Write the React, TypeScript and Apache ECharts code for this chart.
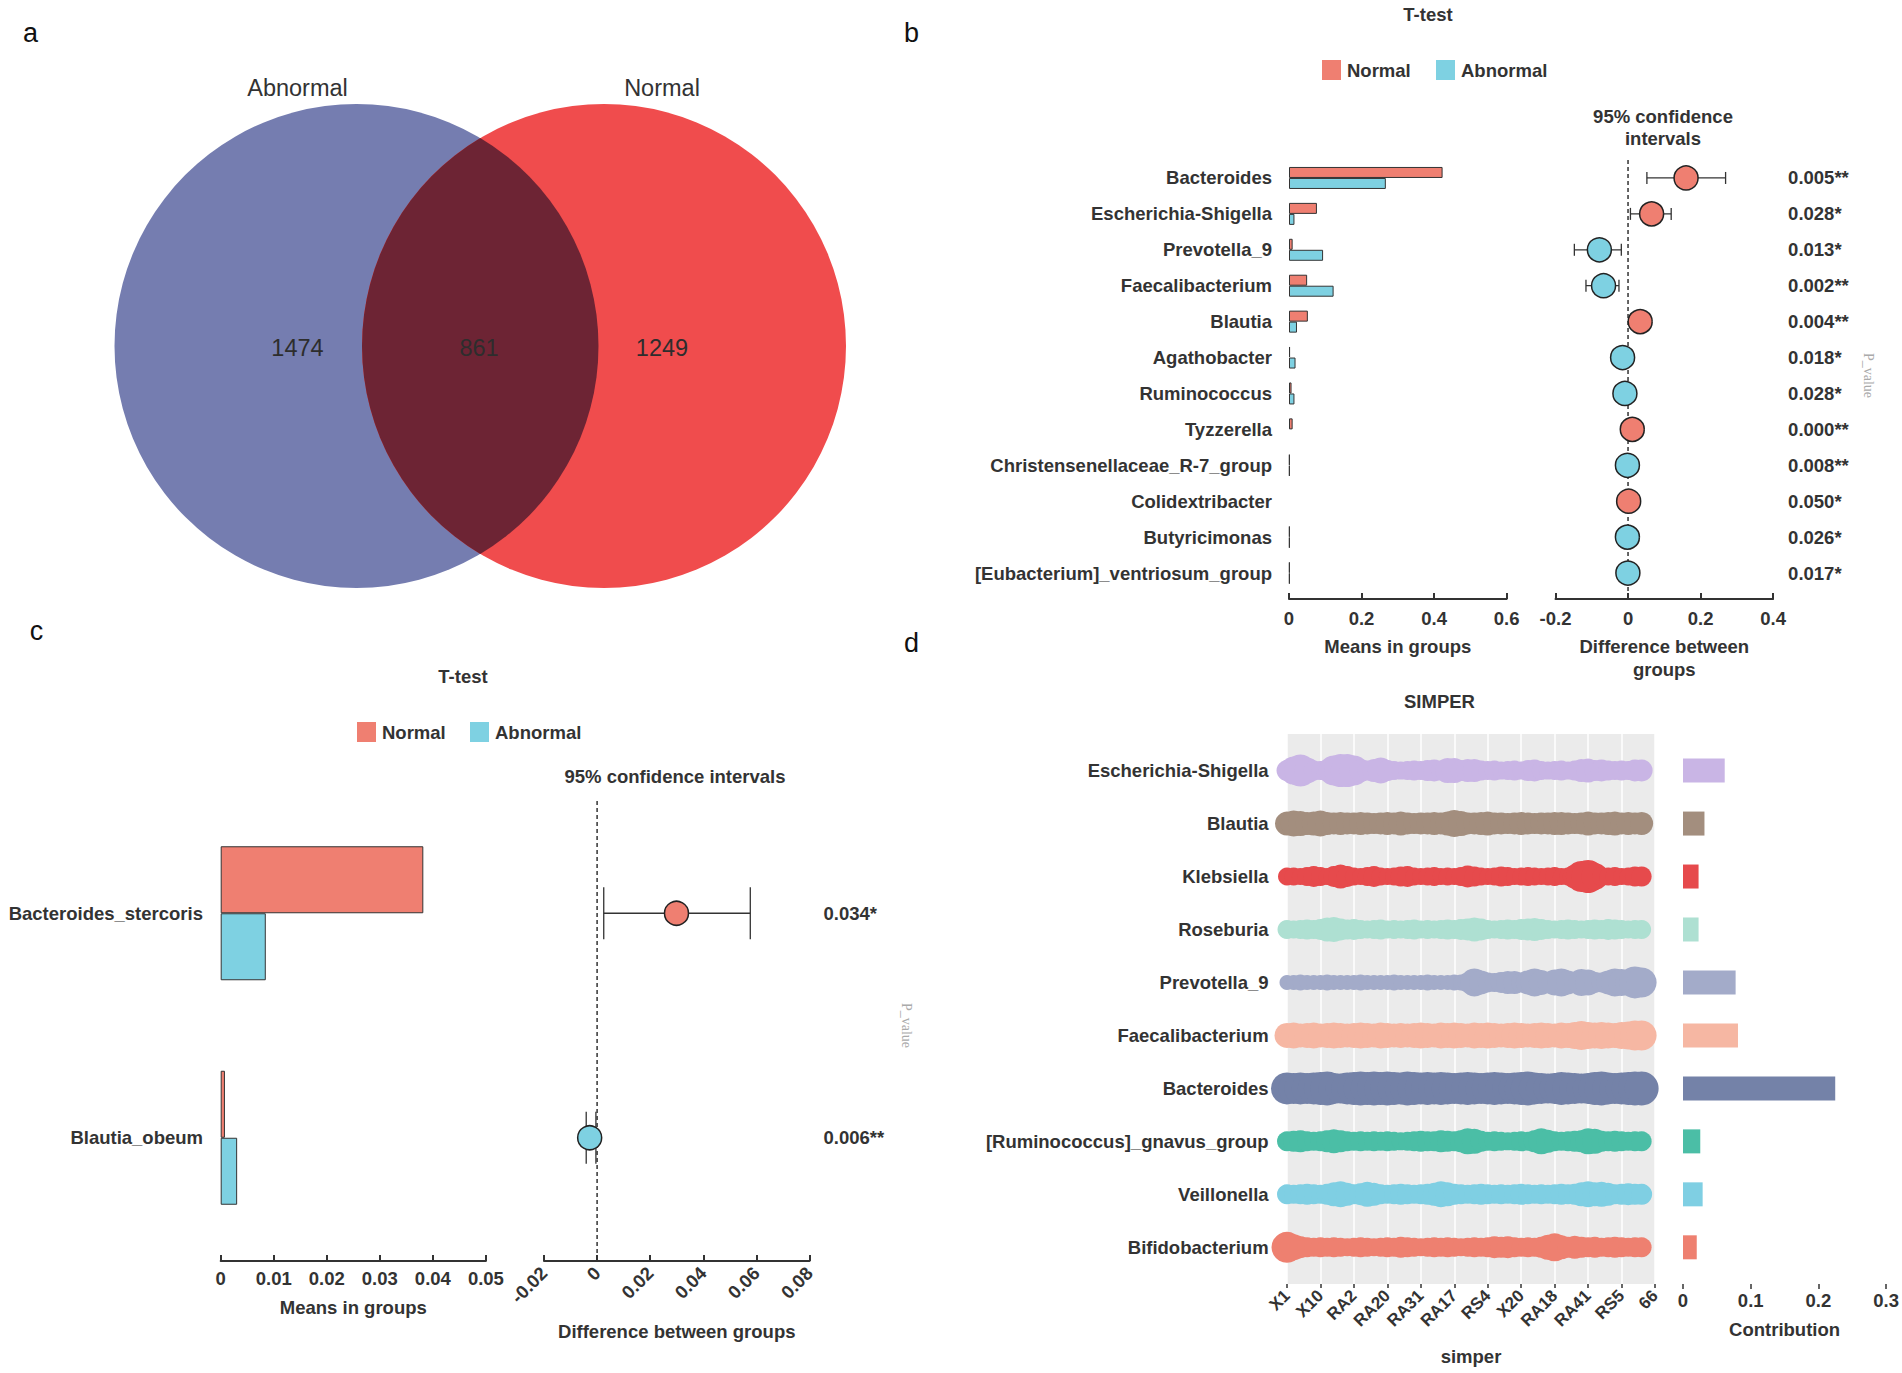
import React, { useEffect, useRef } from 'react';
import * as echarts from 'echarts';

// ---------------- DATA ----------------
const vennSets = ['Abnormal', 'Normal'];
const vennCounts = [1474, 861, 1249]; // Abnormal only, shared, Normal only

const groupNames = ['Normal', 'Abnormal'];

const bGenera = [
  'Bacteroides', 'Escherichia-Shigella', 'Prevotella_9', 'Faecalibacterium', 'Blautia',
  'Agathobacter', 'Ruminococcus', 'Tyzzerella', 'Christensenellaceae_R-7_group',
  'Colidextribacter', 'Butyricimonas', '[Eubacterium]_ventriosum_group',
];
const bNormalMean = [0.4235, 0.077, 0.010, 0.050, 0.052, 0.003, 0.007, 0.010, 0.002, 0, 0.002, 0.002];
const bAbnormalMean = [0.267, 0.015, 0.094, 0.123, 0.022, 0.018, 0.015, 0, 0.002, 0, 0.002, 0.002];
const bDiff = [0.160, 0.065, -0.079, -0.0675, 0.0335, -0.015, -0.0086, 0.0117, -0.0017, 0.0017, -0.0017, -0.0004];
const bDiffLow = [0.052, 0.0066, -0.148, -0.116, 0.016, -0.027, -0.019, 0.004, -0.004, 0.0005, -0.004, -0.002];
const bDiffHigh = [0.269, 0.119, -0.0185, -0.025, 0.051, -0.003, 0.002, 0.019, 0.0005, 0.003, 0.0005, 0.001];
const bPValues = ['0.005**', '0.028*', '0.013*', '0.002**', '0.004**', '0.018*', '0.028*', '0.000**', '0.008**', '0.050*', '0.026*', '0.017*'];

const cSpecies = ['Bacteroides_stercoris', 'Blautia_obeum'];
const cNormalMean = [0.0382, 0.0008];
const cAbnormalMean = [0.0085, 0.0031];
const cDiff = [0.0299, -0.0028];
const cDiffLow = [0.0025, -0.0041];
const cDiffHigh = [0.0577, -0.00045];
const cPValues = ['0.034*', '0.006**'];

const dGenera = [
  'Escherichia-Shigella', 'Blautia', 'Klebsiella', 'Roseburia', 'Prevotella_9',
  'Faecalibacterium', 'Bacteroides', '[Ruminococcus]_gnavus_group', 'Veillonella', 'Bifidobacterium',
];
const dContribution = [0.0616, 0.0317, 0.023, 0.023, 0.0777, 0.0812, 0.2248, 0.0255, 0.029, 0.0203];
const dSampleTicks = ['X1', 'X10', 'RA2', 'RA20', 'RA31', 'RA17', 'RS4', 'X20', 'RA18', 'RA41', 'RS5', '66'];

// per-sample relative abundance (dot size) for each genus, samples in axis order
const abundEscherichia = [21, 28, 32, 26, 20, 19, 22, 30, 33, 33, 30, 23, 20, 23, 26, 21, 19, 18, 19, 20, 19, 21, 22, 20, 25, 25, 21, 23, 23, 20, 19, 20, 18, 19, 20, 18, 21, 22, 19, 18, 19, 20, 18, 20, 23, 24, 21, 22, 20, 19, 20, 19, 22, 22];
const abundBlautia = [24, 26, 25, 23, 24, 26, 23, 22, 23, 22, 22, 23, 22, 21, 22, 23, 22, 24, 22, 21, 22, 22, 23, 22, 24, 27, 25, 22, 22, 23, 24, 22, 22, 21, 22, 23, 22, 21, 22, 22, 23, 23, 22, 21, 22, 24, 22, 22, 23, 24, 22, 23, 22, 23];
const abundKlebsiella = [18, 18, 17, 19, 21, 19, 17, 21, 24, 21, 18, 17, 19, 21, 18, 17, 18, 20, 21, 18, 17, 18, 19, 17, 18, 17, 19, 22, 20, 18, 17, 18, 20, 19, 17, 18, 19, 18, 17, 18, 19, 17, 18, 24, 31, 33, 27, 19, 18, 19, 17, 18, 20, 20];
const abundRoseburia = [19, 18, 19, 20, 19, 21, 24, 25, 22, 20, 21, 19, 18, 19, 20, 18, 19, 18, 19, 20, 18, 19, 18, 19, 20, 19, 21, 22, 24, 22, 19, 18, 19, 20, 19, 21, 22, 23, 21, 19, 18, 19, 20, 19, 18, 19, 20, 19, 21, 20, 19, 18, 19, 19];
const abundPrevotella = [15, 15, 16, 15, 15, 15, 16, 15, 15, 15, 15, 16, 15, 15, 15, 15, 16, 15, 15, 15, 15, 16, 15, 15, 15, 16, 16, 20, 28, 24, 20, 19, 21, 23, 23, 20, 24, 28, 25, 21, 26, 28, 24, 21, 27, 26, 21, 20, 24, 28, 27, 26, 32, 30];
const abundFaecalibacterium = [25, 26, 24, 25, 26, 24, 25, 26, 25, 24, 25, 26, 25, 24, 26, 25, 24, 25, 24, 25, 26, 25, 24, 26, 25, 26, 25, 24, 26, 25, 26, 25, 24, 25, 26, 25, 24, 25, 26, 25, 24, 26, 25, 27, 29, 27, 26, 27, 26, 25, 27, 28, 30, 30];
const abundBacteroides = [32, 31, 32, 31, 32, 33, 34, 31, 30, 32, 33, 34, 33, 34, 33, 34, 33, 32, 34, 33, 32, 33, 32, 33, 32, 31, 32, 33, 32, 31, 32, 33, 32, 31, 32, 33, 34, 32, 31, 30, 31, 33, 32, 31, 30, 31, 33, 34, 32, 31, 32, 33, 34, 34];
const abundRuminococcus = [20, 21, 22, 20, 19, 20, 22, 24, 22, 20, 19, 20, 19, 20, 19, 20, 19, 18, 19, 20, 21, 20, 20, 22, 21, 20, 22, 26, 25, 21, 19, 20, 19, 18, 19, 20, 19, 22, 26, 23, 20, 19, 20, 21, 22, 26, 25, 21, 20, 21, 20, 19, 20, 20];
const abundVeillonella = [20, 19, 20, 21, 20, 19, 21, 24, 26, 23, 20, 22, 25, 23, 20, 19, 20, 21, 20, 19, 20, 21, 23, 26, 24, 21, 20, 19, 20, 21, 20, 19, 20, 19, 20, 21, 20, 19, 20, 19, 20, 21, 20, 21, 24, 26, 24, 25, 23, 20, 21, 22, 21, 21];
const abundBifidobacterium = [31, 26, 22, 20, 19, 20, 19, 20, 19, 18, 19, 20, 19, 18, 19, 20, 19, 21, 20, 19, 18, 19, 20, 19, 20, 19, 18, 19, 20, 19, 20, 22, 21, 22, 20, 19, 20, 19, 21, 25, 28, 24, 21, 23, 21, 20, 21, 19, 20, 21, 20, 19, 20, 20];

const dAbundance = [
  abundEscherichia, abundBlautia, abundKlebsiella, abundRoseburia, abundPrevotella,
  abundFaecalibacterium, abundBacteroides, abundRuminococcus, abundVeillonella, abundBifidobacterium,
];

// ---------------- STYLE ----------------
const FONT = '"Liberation Sans", Arial, Helvetica, sans-serif';
const TXT = '#333333';
const NORMAL_C = '#ef7f71';
const ABNORMAL_C = '#7ed1e2';
const D_COLORS = ['#c9b5e5', '#a38e7e', '#e64a4c', '#aee0d2', '#a3abc9', '#f6b7a3', '#7482a8', '#4bbea6', '#7fcfe3', '#ee8070'];
const DOT_SCALE = 1;
const FS = 18.5;

const V = { c1x: 356.5, c2x: 604, cy: 346, r: 242 };
const vHalf = (V.c2x - V.c1x) / 2;
const vXm = V.c1x + vHalf;
const vH = Math.sqrt(V.r * V.r - vHalf * vHalf);
const lensPath = `M${vXm} ${V.cy - vH} A${V.r} ${V.r} 0 0 1 ${vXm} ${V.cy + vH} A${V.r} ${V.r} 0 0 1 ${vXm} ${V.cy - vH} Z`;
echarts.graphic.registerShape('vennLens', echarts.graphic.extendPath(lensPath, {}));

const bold = (size = FS) => ({ fontFamily: FONT, fontWeight: 'bold' as const, fontSize: size, color: TXT });

function txt(x: number, y: number, text: string, font: string, fill = TXT, align = 'center') {
  return {
    type: 'text', x, y, silent: true,
    style: { text, font, fill, textAlign: align, textVerticalAlign: 'middle' },
  };
}

function errorBar(cap: number) {
  return (params: any, api: any) => {
    const yi = api.value(2);
    const p1 = api.coord([api.value(0), yi]);
    const p2 = api.coord([api.value(1), yi]);
    const st = { stroke: TXT, lineWidth: 1.3 };
    return {
      type: 'group',
      children: [
        { type: 'line', shape: { x1: p1[0], y1: p1[1], x2: p2[0], y2: p2[1] }, style: st },
        { type: 'line', shape: { x1: p1[0], y1: p1[1] - cap / 2, x2: p1[0], y2: p1[1] + cap / 2 }, style: st },
        { type: 'line', shape: { x1: p2[0], y1: p2[1] - cap / 2, x2: p2[0], y2: p2[1] + cap / 2 }, style: st },
      ],
    };
  };
}

// vertical dashed reference line at difference = 0, spanning the plot height
function zeroLine(extraBottom: number) {
  return (params: any, api: any) => {
    const cs = params.coordSys;
    const x = api.coord([0, 0])[0];
    return {
      type: 'line',
      shape: { x1: x, y1: cs.y, x2: x, y2: cs.y + cs.height + extraBottom },
      style: { stroke: TXT, lineWidth: 1.5, lineDash: [4, 3] },
    };
  };
}

// bars of zero height get no outline (nothing is drawn for them)
function barData(values: number[]) {
  return values.map((v) => (v === 0 ? { value: v, itemStyle: { borderWidth: 0 } } : v));
}

function meansAxis(gridIndex: number, max: number, interval: number, offset: number, margin: number, nameGap: number) {
  return {
    gridIndex, type: 'value', min: 0, max, interval, offset,
    axisLine: { show: true, lineStyle: { color: TXT, width: 2 } },
    axisTick: { show: true, inside: true, length: 6, lineStyle: { color: TXT, width: 2 } },
    splitLine: { show: false },
    axisLabel: { ...bold(), margin },
    name: 'Means in groups', nameLocation: 'middle', nameGap, nameTextStyle: bold(),
  };
}

function pAxis(gridIndex: number, labels: string[], margin: number, nameGap: number) {
  return {
    gridIndex, type: 'category', data: labels.map((_, i) => String(i)), inverse: true, position: 'right',
    axisLine: { show: false }, axisTick: { show: false },
    axisLabel: { ...bold(), margin, formatter: (_v: string, i: number) => labels[i] },
    name: 'P_value', nameLocation: 'middle', nameRotate: -90, nameGap,
    nameTextStyle: { fontFamily: '"Liberation Serif", serif', fontSize: 14, color: '#aaaaaa' },
  };
}

function buildOption() {
  const B = `bold ${FS}px ${FONT}`;
  const legend = (x1: number, x2: number, y: number) => [
    { type: 'rect', shape: { x: x1, y: y - 10, width: 19, height: 20 }, style: { fill: NORMAL_C } },
    txt(x1 + 25, y, groupNames[0], B, TXT, 'left'),
    { type: 'rect', shape: { x: x2, y: y - 10, width: 19, height: 20 }, style: { fill: ABNORMAL_C } },
    txt(x2 + 25, y, groupNames[1], B, TXT, 'left'),
  ];

  const dots: number[][] = [];
  dAbundance.forEach((row, r) => row.forEach((v, i) => dots.push([i, r, v])));

  const barStyle = (color: string) => ({ color, borderColor: TXT, borderWidth: 1 });

  return {
    animation: false,
    textStyle: { fontFamily: FONT },
    grid: [
      { left: 1289, top: 160, width: 217.6, height: 431 },
      { left: 1555.5, top: 160, width: 217.6, height: 431 },
      { left: 220.7, top: 801, width: 265.2, height: 449 },
      { left: 544, top: 801, width: 265.5, height: 449 },
      { left: 1287, top: 744.1, width: 368, height: 529.7 },
      { left: 1683, top: 744.1, width: 213.9, height: 529.7 },
      { left: 1287, top: 734, width: 368, height: 550, show: true, backgroundColor: '#ebebeb', borderWidth: 0 },
    ],
    xAxis: [
      meansAxis(0, 0.6, 0.2, 8, 10, 38),
      {
        gridIndex: 1, type: 'value', min: -0.2, max: 0.4, interval: 0.2, offset: 8,
        axisLine: { show: true, lineStyle: { color: TXT, width: 2 } },
        axisTick: { show: true, inside: true, length: 6, lineStyle: { color: TXT, width: 2 } },
        splitLine: { show: false },
        axisLabel: { ...bold(), margin: 10 },
        name: 'Difference between\ngroups', nameLocation: 'middle', nameGap: 36,
        nameTextStyle: { ...bold(), lineHeight: 23 },
      },
      meansAxis(2, 0.05, 0.01, 11, 8, 37),
      {
        gridIndex: 3, type: 'value', min: -0.02, max: 0.08, interval: 0.02, offset: 11,
        axisLine: { show: true, lineStyle: { color: TXT, width: 2 } },
        axisTick: { show: true, inside: true, length: 6, lineStyle: { color: TXT, width: 2 } },
        splitLine: { show: false },
        axisLabel: { ...bold(), margin: 9, rotate: 45 },
        name: 'Difference between groups', nameLocation: 'middle', nameGap: 61, nameTextStyle: bold(),
      },
      { gridIndex: 4, type: 'value', min: 0, max: 55, show: false },
      {
        gridIndex: 5, type: 'value', min: 0, max: 0.3, interval: 0.1, offset: 10.2,
        axisLine: { show: false },
        axisTick: { show: true, length: 5, lineStyle: { color: TXT, width: 1.5 } },
        splitLine: { show: false },
        axisLabel: { ...bold(), margin: 7 },
        name: 'Contribution', nameLocation: 'middle', nameGap: 36, nameTextStyle: bold(),
      },
      {
        gridIndex: 6, type: 'value', min: 0, max: 55, interval: 5, z: 1,
        axisLine: { show: false },
        axisTick: { show: true, length: 4, lineStyle: { color: TXT, width: 1.5 } },
        splitLine: { show: true, lineStyle: { color: '#ffffff', width: 1.5 } },
        axisLabel: {
          ...bold(17), margin: 9, rotate: 45,
          formatter: (v: number) => dSampleTicks[Math.round(v / 5)] ?? '',
        },
        name: 'simper', nameLocation: 'middle', nameGap: 63, nameTextStyle: bold(),
      },
    ],
    yAxis: [
      { gridIndex: 0, type: 'category', data: bGenera, inverse: true, axisLine: { show: false }, axisTick: { show: false }, axisLabel: { ...bold(), margin: 17 } },
      { gridIndex: 1, type: 'category', data: bGenera, inverse: true, show: false },
      pAxis(1, bPValues, 15, 88),
      { gridIndex: 2, type: 'category', data: cSpecies, inverse: true, axisLine: { show: false }, axisTick: { show: false }, axisLabel: { ...bold(), margin: 17.7 } },
      { gridIndex: 3, type: 'category', data: cSpecies, inverse: true, show: false },
      pAxis(3, cPValues, 14, 90),
      { gridIndex: 4, type: 'category', data: dGenera, inverse: true, axisLine: { show: false }, axisTick: { show: false }, axisLabel: { ...bold(), margin: 18.4 } },
      { gridIndex: 5, type: 'category', data: dGenera, inverse: true, show: false },
      { gridIndex: 6, type: 'value', min: 0, max: 1, show: false },
    ],
    series: [
      // panel b
      { type: 'bar', name: groupNames[0], xAxisIndex: 0, yAxisIndex: 0, data: barData(bNormalMean), barWidth: 11, barGap: '0%', itemStyle: barStyle(NORMAL_C) },
      { type: 'bar', name: groupNames[1], xAxisIndex: 0, yAxisIndex: 0, data: barData(bAbnormalMean), barWidth: 11, barGap: '0%', itemStyle: barStyle(ABNORMAL_C) },
      { type: 'custom', xAxisIndex: 1, yAxisIndex: 1, z: 1, data: [[0, 0]], renderItem: zeroLine(8) },
      {
        type: 'custom', xAxisIndex: 1, yAxisIndex: 1, z: 2,
        data: bGenera.map((_, i) => [bDiffLow[i], bDiffHigh[i], i]),
        encode: { x: [0, 1], y: 2 }, renderItem: errorBar(12),
      },
      {
        type: 'scatter', xAxisIndex: 1, yAxisIndex: 1, z: 3, symbolSize: 24,
        data: bDiff.map((v, i) => [v, i]),
        itemStyle: { opacity: 1, color: (p: any) => (p.value[0] >= 0 ? NORMAL_C : ABNORMAL_C), borderColor: '#222', borderWidth: 1.5 },
      },
      // panel c
      { type: 'bar', name: groupNames[0], xAxisIndex: 2, yAxisIndex: 3, data: barData(cNormalMean), barWidth: 67, barGap: '0%', itemStyle: barStyle(NORMAL_C) },
      { type: 'bar', name: groupNames[1], xAxisIndex: 2, yAxisIndex: 3, data: barData(cAbnormalMean), barWidth: 67, barGap: '0%', itemStyle: barStyle(ABNORMAL_C) },
      { type: 'custom', xAxisIndex: 3, yAxisIndex: 4, z: 1, data: [[0, 0]], renderItem: zeroLine(11) },
      {
        type: 'custom', xAxisIndex: 3, yAxisIndex: 4, z: 2,
        data: cSpecies.map((_, i) => [cDiffLow[i], cDiffHigh[i], i]),
        encode: { x: [0, 1], y: 2 }, renderItem: errorBar(52),
      },
      {
        type: 'scatter', xAxisIndex: 3, yAxisIndex: 4, z: 3, symbolSize: 24,
        data: cDiff.map((v, i) => [v, i]),
        itemStyle: { opacity: 1, color: (p: any) => (p.value[0] >= 0 ? NORMAL_C : ABNORMAL_C), borderColor: '#222', borderWidth: 1.5 },
      },
      // panel d
      {
        type: 'scatter', xAxisIndex: 4, yAxisIndex: 6, z: 3,
        data: dots,
        symbolSize: (v: number[]) => v[2] * DOT_SCALE,
        itemStyle: { opacity: 1, color: (p: any) => D_COLORS[p.value[1]] },
      },
      {
        type: 'bar', xAxisIndex: 5, yAxisIndex: 7, barWidth: 24,
        data: dContribution.map((v, i) => ({ value: v, itemStyle: { color: D_COLORS[i] } })),
      },
    ],
    graphic: [
      // panel a: Venn
      { type: 'circle', shape: { cx: V.c1x, cy: V.cy, r: V.r }, style: { fill: '#757db0' } },
      { type: 'circle', shape: { cx: V.c2x, cy: V.cy, r: V.r }, style: { fill: '#f04c4d' } },
      { type: 'vennLens', x: 0, y: 0, style: { fill: '#6d2434' } },
      txt(297.5, 88, vennSets[0], `23.5px ${FONT}`),
      txt(662, 88, vennSets[1], `23.5px ${FONT}`),
      txt(297.5, 348, String(vennCounts[0]), `23.5px ${FONT}`, '#2d2d2d'),
      txt(479, 348, String(vennCounts[1]), `23.5px ${FONT}`, '#2d2d2d'),
      txt(662, 348, String(vennCounts[2]), `23.5px ${FONT}`, '#2d2d2d'),
      // panel letters
      txt(30.5, 33, 'a', `27px ${FONT}`, '#111'),
      txt(911.5, 33, 'b', `27px ${FONT}`, '#111'),
      txt(36.6, 630.5, 'c', `27px ${FONT}`, '#111'),
      txt(911.5, 643, 'd', `27px ${FONT}`, '#111'),
      // panel b titles
      txt(1428, 14.5, 'T-test', B),
      ...legend(1322, 1436, 70),
      txt(1663, 116.5, '95% confidence', B),
      txt(1663, 138.5, 'intervals', B),
      // panel c titles
      txt(463, 676, 'T-test', B),
      ...legend(357, 470, 732),
      txt(675, 776, '95% confidence intervals', B),
      // panel d title
      txt(1439.5, 701, 'SIMPER', B),
    ],
  };
}

export default function App() {
  const ref = useRef<HTMLDivElement>(null);
  useEffect(() => {
    document.body.style.margin = '0';
    const chart = echarts.init(ref.current!, null, { renderer: 'svg' });
    chart.setOption(buildOption() as any);
    return () => chart.dispose();
  }, []);
  return <div ref={ref} style={{ width: 1902, height: 1373, background: '#ffffff' }} />;
}
